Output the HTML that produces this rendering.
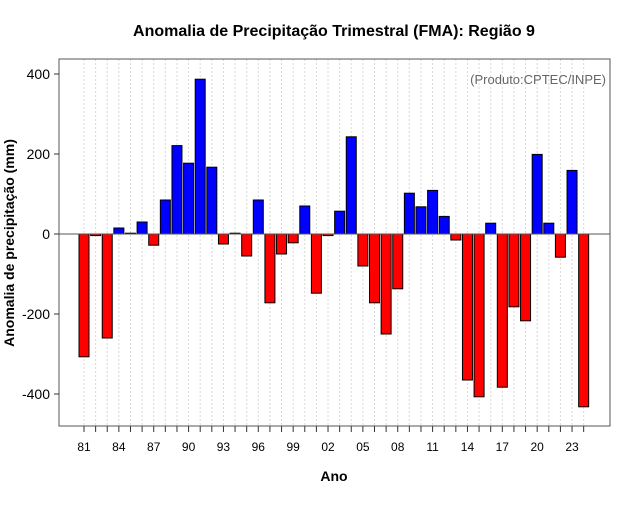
<!DOCTYPE html>
<html><head><meta charset="utf-8"><style>
body{margin:0;background:#fff;font-family:"Liberation Sans",sans-serif}
</style></head><body>
<svg id="c" width="640" height="500" xmlns="http://www.w3.org/2000/svg" font-family="Liberation Sans, sans-serif"></svg>
<script>
const years=[1981,1982,1983,1984,1985,1986,1987,1988,1989,1990,1991,1992,1993,1994,1995,1996,1997,1998,1999,2000,2001,2002,2003,2004,2005,2006,2007,2008,2009,2010,2011,2012,2013,2014,2015,2016,2017,2018,2019,2020,2021,2022,2023,2024];
const values=[-307,-4,-260,15,2,30,-28,85,221,177,387,167,-25,2,-55,85,-172,-50,-22,70,-148,-4,57,243,-80,-172,-250,-137,102,68,109,44,-15,-365,-407,27,-383,-182,-217,199,27,-58,159,-432];
const yTicks=[-400,-200,0,200,400];
const xTickYears=[1981,1984,1987,1990,1993,1996,1999,2002,2005,2008,2011,2014,2017,2020,2023];
const svg=document.getElementById('c');const NS='http://www.w3.org/2000/svg';
function mk(t,a,p){const e=document.createElementNS(NS,t);for(const k in a)e.setAttribute(k,a[k]);(p||svg).appendChild(e);return e;}
const L=59,R=610,T=59,B=426;
const x=yr=>84+(yr-1981)*11.62;
const y=v=>234-v*0.4;
years.forEach(yr=>{const g=mk('line',{x1:x(yr),x2:x(yr),y1:T,y2:B,stroke:'#d8d8d8','stroke-dasharray':'2,2'});

});
years.forEach((yr,i)=>{const v=values[i];const b=mk('rect',{x:x(yr)-5,width:10,y:Math.min(y(v),y(0)),height:Math.max(Math.abs(y(v)-y(0)),0.8),fill:v>=0?'#0000ff':'#ff0000',stroke:'#000','stroke-width':1});

});
const z=mk('line',{x1:L,x2:R,y1:y(0),y2:y(0),stroke:'#555'});


const fr=mk('rect',{x:L,y:T,width:R-L,height:B-T,fill:'none',stroke:'#555'});


yTicks.forEach(v=>{mk('line',{x1:L-5,x2:L,y1:y(v),y2:y(v),stroke:'#333'});
const t=mk('text',{x:L-9,y:y(v)+5,'text-anchor':'end','font-size':14});t.textContent=v;

});
years.forEach(yr=>mk('line',{x1:x(yr),x2:x(yr),y1:B,y2:B+6,stroke:'#333'}));
xTickYears.forEach(yr=>{const t=mk('text',{x:x(yr),y:451,'text-anchor':'middle','font-size':12});t.textContent=String(yr).slice(2);

});
let t=mk('text',{x:334,y:36,'text-anchor':'middle','font-size':16,'font-weight':'bold'});t.textContent='Anomalia de Precipitação Trimestral (FMA): Região 9';


t=mk('text',{x:334,y:481,'text-anchor':'middle','font-size':14,'font-weight':'bold'});t.textContent='Ano';


t=mk('text',{x:14,y:243,'text-anchor':'middle','font-size':14,'font-weight':'bold',transform:'rotate(-90 14 243)'});t.textContent='Anomalia de precipitação (mm)';


t=mk('text',{x:606,y:84,'text-anchor':'end','font-size':13,fill:'#666'});t.textContent='(Produto:CPTEC/INPE)';


</script>
</body></html>
